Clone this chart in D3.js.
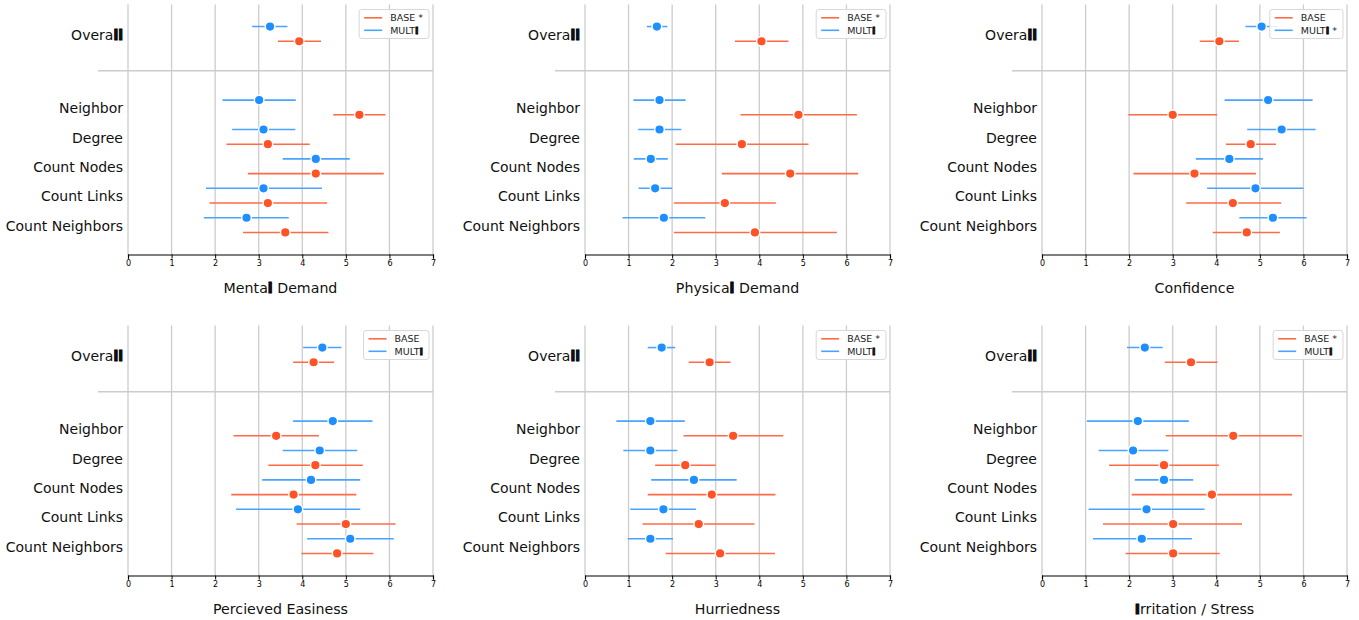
<!DOCTYPE html>
<html><head><meta charset="utf-8">
<script src="https://cdn.jsdelivr.net/npm/d3@7"></script>
<style>
html,body{margin:0;padding:0;background:#fff;}
svg{display:block;font-family:"DejaVu Sans",sans-serif;}
</style></head>
<body>
<svg id="chart" width="1359" height="620"></svg>
<script>
// categories (Overall first)
const categories = ["Overall","Neighbor","Degree","Count Nodes","Count Links","Count Neighbors"];
const xTicks = [0,1,2,3,4,5,6,7];
const metricTitles = ["Mental Demand","Physical Demand","Confidence","Percieved Easiness","Hurriedness","Irritation / Stress"];
const baseLegend = ["BASE *","BASE *","BASE","BASE","BASE *","BASE *"];
const multiLegend = ["MULTI","MULTI","MULTI *","MULTI","MULTI","MULTI"];

// [mean, low, high] per category
const mentalBase  = [[3.93,3.44,4.43],[5.31,4.71,5.91],[3.21,2.26,4.17],[4.31,2.75,5.87],[3.21,1.87,4.57],[3.61,2.64,4.60]];
const mentalMulti = [[3.26,2.85,3.66],[3.01,2.17,3.85],[3.11,2.39,3.84],[4.31,3.55,5.09],[3.11,1.79,4.45],[2.72,1.74,3.69]];
const physBase    = [[4.05,3.44,4.67],[4.90,3.57,6.24],[3.60,2.08,5.13],[4.71,3.14,6.27],[3.21,2.04,4.38],[3.90,2.04,5.78]];
const physMulti   = [[1.65,1.42,1.89],[1.71,1.11,2.31],[1.71,1.22,2.21],[1.51,1.12,1.90],[1.61,1.23,2.00],[1.81,0.86,2.76]];
const confBase    = [[4.07,3.62,4.52],[3.00,1.98,4.02],[4.79,4.22,5.37],[3.50,2.10,4.91],[4.38,3.31,5.49],[4.70,3.92,5.46]];
const confMulti   = [[5.04,4.67,5.40],[5.19,4.19,6.21],[5.50,4.71,6.28],[4.30,3.53,5.07],[4.90,3.79,6.00],[5.30,4.53,6.07]];
const easeBase    = [[4.26,3.79,4.73],[3.40,2.42,4.38],[4.30,3.22,5.39],[3.80,2.37,5.24],[5.00,3.87,6.14],[4.80,3.98,5.63]];
const easeMulti   = [[4.46,4.02,4.90],[4.70,3.79,5.61],[4.40,3.55,5.26],[4.20,3.08,5.33],[3.90,2.48,5.33],[5.10,4.11,6.10]];
const hurryBase   = [[2.86,2.38,3.34],[3.40,2.26,4.55],[2.30,1.61,3.00],[2.91,1.44,4.37],[2.61,1.32,3.89],[3.10,1.85,4.36]];
const hurryMulti  = [[1.76,1.44,2.07],[1.50,0.72,2.29],[1.50,0.88,2.12],[2.50,1.52,3.48],[1.80,1.04,2.55],[1.50,0.98,2.02]];
const stressBase  = [[3.42,2.82,4.03],[4.39,2.84,5.97],[2.80,1.54,4.06],[3.90,2.06,5.74],[3.01,1.40,4.59],[3.01,1.92,4.08]];
const stressMulti = [[2.36,1.95,2.77],[2.20,1.03,3.37],[2.09,1.30,2.90],[2.80,2.13,3.47],[2.40,1.07,3.73],[2.29,1.17,3.44]];

const baseSeries  = [mentalBase, physBase, confBase, easeBase, hurryBase, stressBase];
const multiSeries = [mentalMulti, physMulti, confMulti, easeMulti, hurryMulti, stressMulti];

const RED_DOT="#ff5226", RED_LINE="#ff6b47", BLUE_DOT="#1e8fff", BLUE_LINE="#4aa3ff";
const GRID="#cccccc";

const svg = d3.select("#chart");

// text with heavy l / I glyphs like the reference rendering
function richText(sel, str, sw){
  const parts = str.split(/([lI])/).filter(s=>s.length);
  parts.forEach(p=>{
    const t = sel.append("tspan").text(p);
    if(p==="l"||p==="I"){ t.attr("font-weight","bold").attr("stroke","#000").attr("stroke-width",sw||1.0); }
  });
}

const catPos = [0,2.5,3.5,4.5,5.5,6.5];
const panelX0 = [128,585,1042];
const rowTop = [4.5,325.5];
const plotW = 305, plotH = 250;

for(let p=0;p<6;p++){
  const col=p%3,row=Math.floor(p/3);
  const x0=panelX0[col], top=rowTop[row], bottom=top+plotH;
  const x=d3.scaleLinear().domain([0,7]).range([x0,x0+plotW]);
  const y=d3.scaleLinear().domain([-1,7.5]).range([top,bottom]);
  const g=svg.append("g");

  // vertical grid
  g.selectAll("line.grid").data(xTicks).join("line")
    .attr("x1",d=>x(d)).attr("x2",d=>x(d)).attr("y1",top).attr("y2",bottom)
    .attr("stroke",GRID).attr("stroke-width",1.3);
  // divider
  g.append("line").attr("x1",x0-30).attr("x2",x(7)).attr("y1",y(1.25)).attr("y2",y(1.25))
    .attr("stroke",GRID).attr("stroke-width",1.5);

  // x axis
  const ax=g.append("g").attr("transform",`translate(0,${bottom})`)
    .call(d3.axisBottom(x).tickValues(xTicks).tickSize(4).tickPadding(2).tickFormat(d3.format("d")));
  ax.select(".domain").attr("stroke","#000").attr("stroke-width",1.2);
  ax.selectAll(".tick line").attr("stroke","#000");
  ax.selectAll(".tick text").attr("font-size",8).attr("fill","#000").attr("font-family","DejaVu Sans");

  // x label
  const xl=g.append("text").attr("x",(x(0)+x(7))/2).attr("y",bottom+38)
    .attr("text-anchor","middle").attr("font-size",14.2).attr("fill","#111");
  richText(xl,metricTitles[p]);

  // y labels
  categories.forEach((c,i)=>{
    const t=g.append("text").attr("x",x0-5).attr("y",y(catPos[i])+0.8).attr("dy","0.35em")
      .attr("text-anchor","end").attr("font-size",14).attr("fill","#111");
    richText(t,c);
  });

  // series
  const series=[{d:multiSeries[p],off:-0.25,dot:BLUE_DOT,line:BLUE_LINE},
                {d:baseSeries[p],off:0.25,dot:RED_DOT,line:RED_LINE}];
  series.forEach(s=>{
    s.d.forEach((v,i)=>{
      const yy=y(catPos[i]+s.off);
      g.append("line").attr("x1",x(v[1])).attr("x2",x(v[2])).attr("y1",yy).attr("y2",yy)
        .attr("stroke",s.line).attr("stroke-width",1.6);
      g.append("circle").attr("cx",x(v[0])).attr("cy",yy).attr("r",4.8)
        .attr("fill",s.dot).attr("stroke","#fff").attr("stroke-width",1.4);
    });
  });

  // legend
  const lg=g.append("g");
  const items=[{t:baseLegend[p],c:RED_LINE},{t:multiLegend[p],c:BLUE_LINE}];
  const texts=items.map((it,i)=>{
    const t=lg.append("text").attr("x",0).attr("y",i*12.5).attr("dy","0.35em")
      .attr("font-size",9.5).attr("fill","#222");
    richText(t,it.t,0.8);
    return t;
  });
  const tw=d3.max(texts,t=>t.node().getComputedTextLength());
  const boxW=31+tw+6, boxH=29;
  const bx=x(7)-4-boxW, by=top+5;
  lg.insert("rect",":first-child").attr("x",bx).attr("y",by).attr("width",boxW).attr("height",boxH)
    .attr("rx",2.5).attr("fill","#fff").attr("fill-opacity",0.85).attr("stroke","#d8d8d8").attr("stroke-width",1);
  items.forEach((it,i)=>{
    const yy=by+8.3+i*12.5;
    lg.append("line").attr("x1",bx+5).attr("x2",bx+23).attr("y1",yy).attr("y2",yy)
      .attr("stroke",it.c).attr("stroke-width",1.6);
    texts[i].attr("x",bx+31).attr("y",yy);
  });
}
</script>
</body></html>
